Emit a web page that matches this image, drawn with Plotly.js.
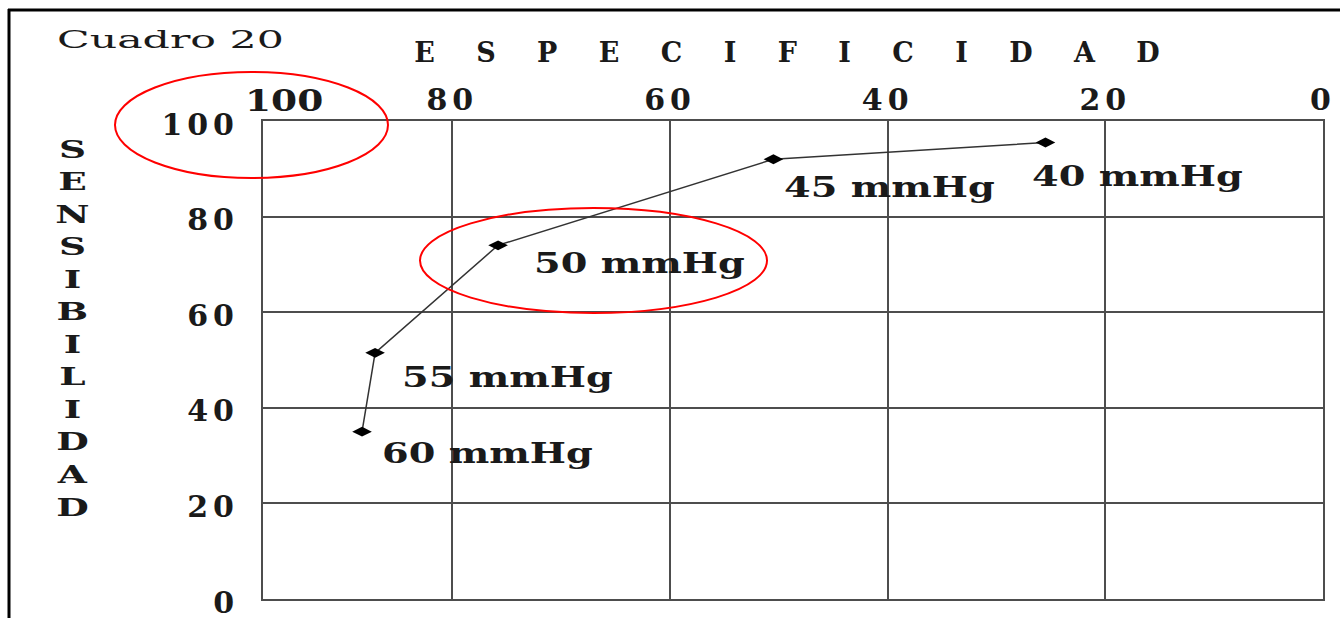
<!DOCTYPE html>
<html>
<head>
<meta charset="utf-8">
<script src="https://cdn.plot.ly/plotly-3.0.1.min.js"></script>
<style>
html, body { margin: 0; padding: 0; background: #fff; }
#chart { width: 1340px; height: 618px; }
/* the reference lettering is drawn very wide: widen it */
#chart .xtick text, #chart .ytick text { letter-spacing: 5px; }
#chart text.gtitle { letter-spacing: 16px; }
#chart g.annotation text.annotation-text { transform-box: fill-box; transform-origin: 0% 50%; }
#chart g.annotation[data-index="0"] text.annotation-text,
#chart g.annotation[data-index="1"] text.annotation-text,
#chart g.annotation[data-index="2"] text.annotation-text,
#chart g.annotation[data-index="3"] text.annotation-text,
#chart g.annotation[data-index="4"] text.annotation-text { transform: scaleX(1.42); }
#chart g.annotation[data-index="5"] text.annotation-text { transform: scaleX(1.78); }
#chart g.annotation[data-index="6"] text.annotation-text { transform: scaleX(1.25); }
#chart g.annotation[data-index="7"] text.annotation-text { transform-origin: 50% 50%; transform: scaleX(1.5); }
</style>
</head>
<body>
<div id="chart"></div>
<script>
// ---- data ----
const especificidad = [88.3, 87.1, 75.8, 50.5, 25.5];
const sensibilidad = [35, 51.5, 74, 92, 95.5];
const pointLabels = ["60 mmHg", "55 mmHg", "50 mmHg", "45 mmHg", "40 mmHg"];
const xTickVals = [80, 60, 40, 20, 0];
const yTickVals = [0, 20, 40, 60, 80, 100];
const tableLabel = "Cuadro 20";
const xTitle = "E S P E C I F I C I D A D";
const yTitleLetters = ["S","E","N","S","I","B","I","L","I","D","A","D"];

// ---- layout helpers ----
const W = 1340, H = 618;
const M = {l: 263, r: 17, t: 121, b: 19};
const PW = W - M.l - M.r, PH = H - M.t - M.b;
const px = v => (v - M.l) / PW;
const py = v => 1 - (v - M.t) / PH;

const serif = "DejaVu Serif, Liberation Serif, serif";
const ink = "#1a1a1a";
const gridC = "#4d4d4d";

// label offsets (pixels) relative to each point
const labelShift = [[18, -22], [25, -25], [34, -18], [9, -28], [-15, -34]];

const trace = {
  x: especificidad,
  y: sensibilidad,
  type: "scatter",
  mode: "lines+markers",
  line: {color: "#333", width: 1.5},
  marker: {symbol: "diamond-wide", size: 14, color: "#000"},
  cliponaxis: false,
  hoverinfo: "x+y"
};

const annotations = pointLabels.map((t, i) => ({
  x: especificidad[i], y: sensibilidad[i], xref: "x", yref: "y",
  text: t, showarrow: false, xanchor: "left", yanchor: "middle", align: "left",
  xshift: labelShift[i][0], yshift: labelShift[i][1],
  font: {family: serif, size: 27, color: ink, weight: "bold"}
}));

annotations.push({
  x: px(55), y: py(40), xref: "paper", yref: "paper",
  text: tableLabel, showarrow: false, xanchor: "left", yanchor: "middle", align: "left",
  font: {family: serif, size: 24, color: ink}
});
annotations.push({
  x: px(243), y: py(100), xref: "paper", yref: "paper",
  text: "100", showarrow: false, xanchor: "left", yanchor: "middle", align: "left",
  font: {family: serif, size: 30, color: ink, weight: "bold"}
});
annotations.push({
  x: px(72), y: py(328), xref: "paper", yref: "paper",
  text: yTitleLetters.join("<br>"), showarrow: false,
  xanchor: "center", yanchor: "middle", align: "center",
  font: {family: serif, size: 25, color: ink, weight: "bold"}
});

const shapes = [
  // outer frame (left and top)
  {type: "line", xref: "paper", yref: "paper", x0: px(9), x1: px(9), y0: py(9), y1: py(640),
   line: {color: "#000", width: 3}},
  {type: "line", xref: "paper", yref: "paper", x0: px(8), x1: px(1345), y0: py(10), y1: py(10),
   line: {color: "#000", width: 3}},
  // red ellipses
  {type: "circle", xref: "paper", yref: "paper", x0: px(115), x1: px(388), y0: py(72), y1: py(178),
   line: {color: "#ff0000", width: 2}},
  {type: "circle", xref: "paper", yref: "paper", x0: px(420), x1: px(767), y0: py(208), y1: py(313),
   line: {color: "#ff0000", width: 2}}
];

const layout = {
  width: W, height: H,
  margin: M,
  paper_bgcolor: "#fff", plot_bgcolor: "#fff",
  showlegend: false,
  title: {
    text: xTitle, xref: "container", yref: "container",
    x: 795 / W, y: 1 - 53 / H, xanchor: "center", yanchor: "middle",
    font: {family: serif, size: 27, color: ink, weight: "bold"}
  },
  xaxis: {
    range: [97.4, 0], side: "top",
    tickvals: xTickVals, ticks: "", ticklabelstandoff: -3,
    tickfont: {family: serif, size: 30, color: ink, weight: "bold"},
    showgrid: true, gridcolor: gridC, gridwidth: 2,
    showline: true, mirror: true, linecolor: gridC, linewidth: 2,
    zeroline: false, fixedrange: true, ticklabeloverflow: "allow"
  },
  yaxis: {
    range: [0, 100],
    tickvals: yTickVals, ticks: "", ticklabelstandoff: 16, ticklabelshift: 3,
    tickfont: {family: serif, size: 30, color: ink, weight: "bold"},
    showgrid: true, gridcolor: gridC, gridwidth: 2,
    showline: true, mirror: true, linecolor: gridC, linewidth: 2,
    zeroline: false, fixedrange: true, ticklabeloverflow: "allow"
  },
  annotations: annotations,
  shapes: shapes
};

Plotly.newPlot("chart", [trace], layout, {displayModeBar: false, staticPlot: true});
</script>
</body>
</html>
